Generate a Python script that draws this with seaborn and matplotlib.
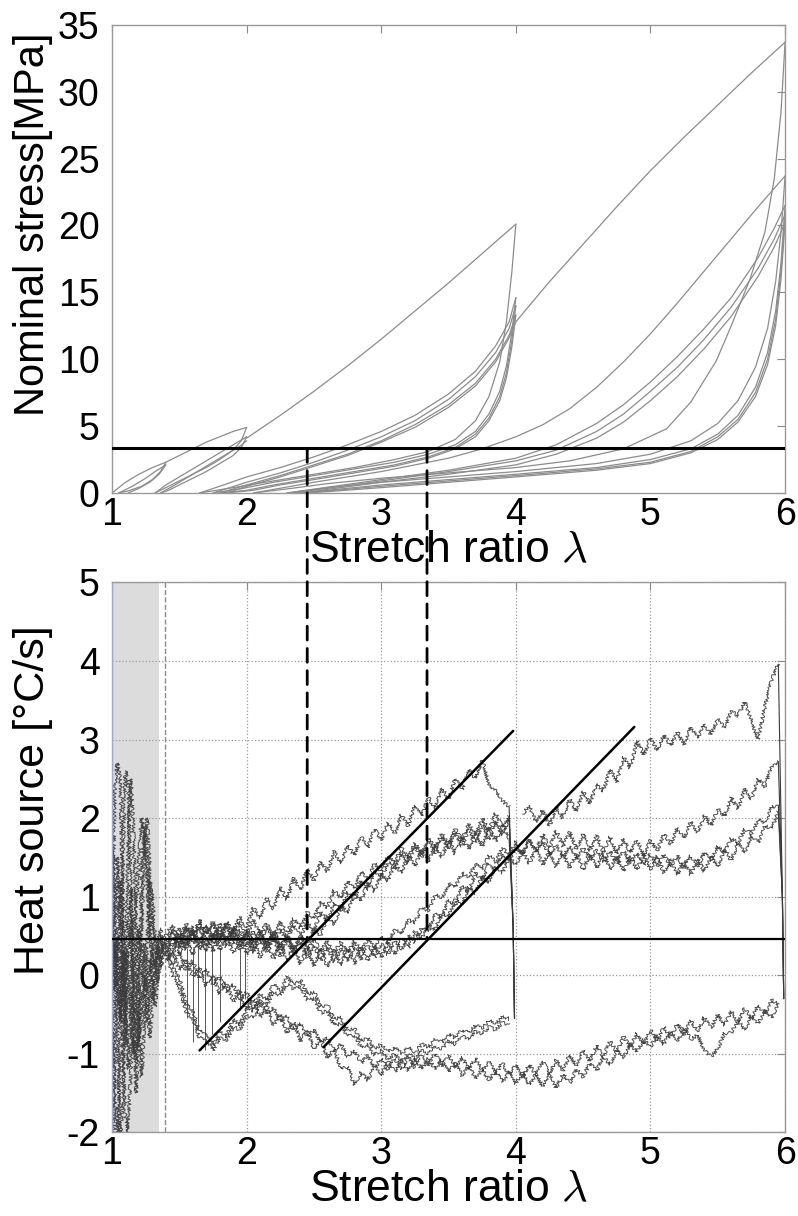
import numpy as np
import pandas as pd
import matplotlib
matplotlib.use("Agg")
import matplotlib.pyplot as plt
import seaborn as sns
from matplotlib.patches import ConnectionPatch

# ---------------- top panel: nominal stress vs stretch ratio ----------------
stress_curves = {
    "load14":   ([1.00, 1.10, 1.20, 1.30, 1.40], [0.0, 0.8, 1.4, 1.9, 2.3]),
    "unl14a":   ([1.40, 1.36, 1.30, 1.22, 1.12, 1.05], [2.3, 1.6, 1.0, 0.5, 0.15, 0.0]),
    "rel14":    ([1.05, 1.15, 1.25, 1.32, 1.40], [0.0, 0.5, 1.1, 1.6, 2.1]),
    "unl14b":   ([1.40, 1.35, 1.28, 1.20, 1.12], [2.1, 1.4, 0.8, 0.35, 0.0]),
    "load2v":   ([1.40, 1.50, 1.60, 1.70, 1.80, 1.90, 2.00], [2.3, 2.8, 3.3, 3.8, 4.2, 4.6, 4.9]),
    "unl2a":    ([2.00, 1.96, 1.90, 1.80, 1.70, 1.60, 1.50, 1.40, 1.32], [4.9, 3.9, 3.2, 2.5, 1.9, 1.4, 0.9, 0.4, 0.0]),
    "rel2a":    ([1.32, 1.40, 1.50, 1.60, 1.70, 1.80, 1.90, 2.00], [0.0, 0.6, 1.2, 1.8, 2.4, 3.0, 3.6, 4.2]),
    "unl2b":    ([2.00, 1.96, 1.90, 1.80, 1.70, 1.60, 1.50, 1.42, 1.36], [4.2, 3.4, 2.8, 2.2, 1.6, 1.1, 0.6, 0.2, 0.0]),
    "rel2b":    ([1.36, 1.45, 1.55, 1.65, 1.75, 1.85, 1.95, 2.00], [0.0, 0.5, 1.1, 1.7, 2.3, 2.9, 3.5, 3.9]),
    "load4v":   ([2.00, 2.25, 2.50, 2.75, 3.00, 3.25, 3.50, 3.75, 4.00], [4.1, 5.8, 7.6, 9.5, 11.5, 13.6, 15.7, 17.9, 20.1]),
    "unl4v":    ([4.00, 3.97, 3.93, 3.88, 3.80, 3.70, 3.55, 3.35, 3.10, 2.80, 2.50, 2.20, 1.90, 1.65],
                 [20.1, 16.5, 12.8, 9.8, 7.2, 5.4, 4.0, 3.1, 2.5, 1.9, 1.4, 0.9, 0.4, 0.0]),
    "rel4a":    ([1.65, 1.80, 2.00, 2.25, 2.50, 2.75, 3.00, 3.25, 3.50, 3.70, 3.85, 3.95, 4.00],
                 [0.0, 0.5, 1.2, 1.9, 2.7, 3.6, 4.6, 5.8, 7.4, 9.1, 11.0, 12.8, 14.6]),
    "unl4a":    ([4.00, 3.97, 3.93, 3.88, 3.80, 3.70, 3.55, 3.35, 3.10, 2.80, 2.50, 2.20, 1.95, 1.75],
                 [14.6, 12.0, 9.5, 7.6, 5.9, 4.6, 3.6, 2.9, 2.3, 1.8, 1.3, 0.8, 0.3, 0.0]),
    "rel4b":    ([1.75, 2.00, 2.25, 2.50, 2.75, 3.00, 3.25, 3.50, 3.70, 3.85, 3.95, 4.00],
                 [0.0, 0.8, 1.5, 2.3, 3.2, 4.2, 5.4, 7.0, 8.7, 10.5, 12.3, 14.0]),
    "unl4b":    ([4.00, 3.97, 3.93, 3.88, 3.80, 3.70, 3.55, 3.35, 3.10, 2.80, 2.50, 2.20, 2.00, 1.80],
                 [14.0, 11.4, 9.0, 7.2, 5.6, 4.4, 3.4, 2.7, 2.1, 1.6, 1.1, 0.6, 0.2, 0.0]),
    "rel4c":    ([1.80, 2.00, 2.25, 2.50, 2.75, 3.00, 3.25, 3.50, 3.70, 3.85, 3.95, 4.00],
                 [0.0, 0.6, 1.3, 2.1, 2.9, 3.9, 5.1, 6.6, 8.2, 10.0, 11.8, 13.3]),
    "unl4c":    ([4.00, 3.97, 3.93, 3.88, 3.80, 3.70, 3.55, 3.35, 3.10, 2.80, 2.50, 2.25, 2.05, 1.85],
                 [13.3, 10.9, 8.6, 6.9, 5.4, 4.2, 3.3, 2.6, 2.0, 1.5, 1.0, 0.6, 0.2, 0.0]),
    "rel4d":    ([1.85, 2.00, 2.25, 2.50, 2.75, 3.00, 3.25, 3.50, 3.70, 3.85, 3.95, 4.00],
                 [0.0, 0.5, 1.2, 2.0, 2.8, 3.8, 4.9, 6.4, 8.0, 9.8, 11.6, 12.8]),
    "load6v":   ([4.00, 4.25, 4.50, 4.75, 5.00, 5.25, 5.50, 5.75, 6.00],
                 [12.8, 15.8, 18.6, 21.4, 24.1, 26.6, 29.0, 31.4, 33.7]),
    "unl6v":    ([6.00, 5.97, 5.92, 5.85, 5.74, 5.60, 5.49, 5.30, 5.12, 4.80, 4.40, 4.00, 3.50, 3.00, 2.60, 2.30, 2.05],
                 [33.7, 28.5, 23.5, 19.5, 16.0, 12.5, 9.9, 6.8, 4.8, 3.3, 2.4, 1.9, 1.5, 1.1, 0.7, 0.3, 0.0]),
    "rel6a":    ([2.05, 2.50, 3.00, 3.50, 3.75, 4.00, 4.20, 4.40, 4.60, 4.80, 5.00, 5.20, 5.40, 5.60, 5.80, 6.00],
                 [0.0, 0.8, 1.6, 2.6, 3.3, 4.2, 5.1, 6.3, 7.9, 9.8, 11.9, 14.2, 16.6, 19.0, 21.4, 23.7]),
    "unl6a":    ([6.00, 5.97, 5.93, 5.87, 5.78, 5.65, 5.50, 5.30, 5.00, 4.60, 4.00, 3.50, 3.00, 2.60, 2.30],
                 [23.7, 19.5, 15.8, 12.3, 9.4, 6.9, 5.2, 3.9, 2.9, 2.2, 1.6, 1.2, 0.8, 0.4, 0.0]),
    "rel6b":    ([2.30, 3.00, 3.50, 4.00, 4.30, 4.60, 4.80, 5.00, 5.20, 5.40, 5.60, 5.80, 5.92, 6.00],
                 [0.0, 1.0, 1.7, 2.6, 3.6, 5.2, 6.6, 8.3, 10.2, 12.3, 14.6, 17.6, 19.8, 21.5]),
    "unl6b":    ([6.00, 5.97, 5.93, 5.87, 5.78, 5.65, 5.50, 5.30, 5.00, 4.60, 4.00, 3.50, 3.00, 2.60, 2.35],
                 [21.5, 17.2, 13.6, 10.5, 7.9, 5.8, 4.4, 3.3, 2.5, 1.9, 1.4, 1.0, 0.6, 0.2, 0.0]),
    "rel6c":    ([2.35, 3.00, 3.50, 4.00, 4.30, 4.60, 4.80, 5.00, 5.20, 5.40, 5.60, 5.80, 5.92, 6.00],
                 [0.0, 0.9, 1.6, 2.4, 3.2, 4.6, 5.9, 7.6, 9.4, 11.5, 13.9, 16.8, 19.0, 20.8]),
    "unl6c":    ([6.00, 5.97, 5.93, 5.87, 5.78, 5.65, 5.50, 5.30, 5.00, 4.60, 4.00, 3.50, 3.00, 2.60, 2.40],
                 [20.8, 16.6, 13.0, 10.0, 7.5, 5.5, 4.2, 3.1, 2.3, 1.8, 1.3, 0.9, 0.5, 0.15, 0.0]),
    "rel6d":    ([2.40, 3.00, 3.50, 4.00, 4.30, 4.60, 4.80, 5.00, 5.20, 5.40, 5.60, 5.80, 5.92, 6.00],
                 [0.0, 0.8, 1.4, 2.1, 2.9, 4.1, 5.3, 6.9, 8.7, 10.8, 13.2, 16.2, 18.4, 20.2]),
    "unl6d":    ([6.00, 5.97, 5.93, 5.87, 5.78, 5.65, 5.50, 5.30, 5.00, 4.60, 4.00, 3.50, 3.00, 2.60, 2.45],
                 [20.2, 16.0, 12.5, 9.6, 7.2, 5.3, 4.0, 3.0, 2.2, 1.7, 1.2, 0.8, 0.4, 0.1, 0.0]),
}
stress_threshold = 3.33

# ---------------- bottom panel: heat source vs stretch ratio ----------------
lam_a = np.round(np.arange(1.40, 3.951, 0.05), 2)    # 52 samples
lam_b = np.round(np.arange(4.00, 5.951, 0.05), 2)    # 40 samples
lam_left = np.round(np.arange(1.00, 1.401, 0.02), 2)  # 21 samples

t1_load4 = [0.45, 0.58, 0.38, 0.62, 0.48, 0.70, 0.52, 0.66, 0.44, 0.68,
            0.55, 0.74, 0.60, 0.86, 0.72, 0.98, 0.84, 1.12, 0.96, 1.24,
            1.08, 1.36, 1.20, 1.44, 1.32, 1.58, 1.42, 1.66, 1.52, 1.76,
            1.62, 1.86, 1.72, 1.94, 1.80, 2.04, 1.90, 2.16, 2.02, 2.26,
            2.12, 2.38, 2.24, 2.50, 2.36, 2.62, 2.50, 2.74, 2.42, 2.34,
            2.22, 2.14]
t1_load6 = [2.05, 2.16, 1.94, 2.10, 1.90, 2.14, 2.00, 2.24, 2.08, 2.34,
            2.18, 2.44, 2.34, 2.62, 2.46, 2.78, 2.64, 2.98, 2.80, 3.02,
            2.86, 3.06, 2.92, 3.10, 2.94, 3.16, 3.02, 3.20, 3.06, 3.26,
            3.14, 3.36, 3.30, 3.48, 3.24, 3.00, 3.42, 3.76, 3.96]
b1 = [0.40, 0.56, 0.34, 0.58, 0.40, 0.62, 0.36, 0.54, 0.42, 0.64,
      0.40, 0.58, 0.36, 0.56, 0.40, 0.62, 0.42, 0.58, 0.44, 0.64,
      0.48, 0.68, 0.56, 0.80, 0.68, 0.92, 0.82, 1.06, 0.96, 1.20,
      1.08, 1.32, 1.22, 1.44, 1.34, 1.56, 1.42, 1.64, 1.50, 1.70,
      1.54, 1.76, 1.60, 1.82, 1.64, 1.86, 1.68, 1.92, 1.72, 1.96,
      1.78, 1.98]
b2 = [0.35, 0.24, 0.50, 0.32, 0.56, 0.36, 0.62, 0.40, 0.66, 0.42,
      0.60, 0.36, 0.56, 0.32, 0.58, 0.34, 0.56, 0.32, 0.52, 0.30,
      0.50, 0.38, 0.60, 0.50, 0.76, 0.64, 0.90, 0.78, 1.04, 0.94,
      1.18, 1.06, 1.30, 1.20, 1.42, 1.30, 1.52, 1.38, 1.60, 1.44,
      1.66, 1.50, 1.72, 1.54, 1.76, 1.60, 1.82, 1.64, 1.88, 1.70,
      1.92, 1.74]
b3 = [0.52, 0.64, 0.44, 0.66, 0.48, 0.70, 0.52, 0.68, 0.46, 0.66,
      0.48, 0.68, 0.50, 0.70, 0.52, 0.66, 0.48, 0.68, 0.54, 0.72,
      0.60, 0.80, 0.72, 0.94, 0.86, 1.08, 0.98, 1.20, 1.10, 1.32,
      1.22, 1.42, 1.32, 1.52, 1.42, 1.62, 1.50, 1.68, 1.56, 1.74,
      1.62, 1.80, 1.66, 1.86, 1.72, 1.92, 1.78, 2.00, 1.84, 2.06,
      1.88, 2.02]
c1_a = [0.42, 0.30, 0.52, 0.36, 0.56, 0.32, 0.50, 0.30, 0.54, 0.36,
        0.56, 0.32, 0.50, 0.28, 0.48, 0.30, 0.46, 0.24, 0.44, 0.26,
        0.42, 0.22, 0.38, 0.18, 0.36, 0.16, 0.34, 0.18, 0.36, 0.20,
        0.38, 0.22, 0.40, 0.26, 0.44, 0.32, 0.50, 0.42, 0.60, 0.56,
        0.78, 0.72, 0.96, 0.88, 1.14, 1.06, 1.30, 1.20, 1.42, 1.32,
        1.54, 1.46]
c1_b = [1.62, 1.54, 1.72, 1.58, 1.80, 1.62, 1.84, 1.64, 1.82, 1.60,
        1.80, 1.58, 1.78, 1.56, 1.76, 1.54, 1.74, 1.56, 1.72, 1.52,
        1.72, 1.58, 1.80, 1.66, 1.88, 1.74, 1.96, 1.82, 2.04, 1.90,
        2.12, 2.02, 2.26, 2.12, 2.38, 2.24, 2.50, 2.40, 2.66, 2.72]
c2_a = [0.30, 0.48, 0.26, 0.50, 0.26, 0.48, 0.30, 0.52, 0.32, 0.50,
        0.28, 0.48, 0.26, 0.46, 0.22, 0.44, 0.20, 0.42, 0.18, 0.38,
        0.14, 0.36, 0.12, 0.34, 0.10, 0.32, 0.12, 0.34, 0.14, 0.36,
        0.18, 0.38, 0.22, 0.42, 0.26, 0.46, 0.34, 0.56, 0.46, 0.64,
        0.58, 0.80, 0.74, 0.96, 0.90, 1.12, 1.04, 1.26, 1.18, 1.38,
        1.30, 1.50]
c2_b = [1.40, 1.58, 1.42, 1.60, 1.40, 1.58, 1.38, 1.56, 1.36, 1.54,
        1.34, 1.54, 1.36, 1.56, 1.34, 1.52, 1.32, 1.52, 1.34, 1.54,
        1.34, 1.52, 1.30, 1.48, 1.28, 1.46, 1.28, 1.48, 1.32, 1.52,
        1.38, 1.60, 1.46, 1.68, 1.56, 1.78, 1.68, 1.90, 1.86, 2.08]
c3_a = [0.48, 0.36, 0.60, 0.40, 0.62, 0.44, 0.64, 0.46, 0.60, 0.42,
        0.62, 0.44, 0.58, 0.40, 0.54, 0.38, 0.52, 0.36, 0.50, 0.34,
        0.48, 0.32, 0.46, 0.30, 0.44, 0.28, 0.42, 0.28, 0.44, 0.30,
        0.46, 0.34, 0.50, 0.40, 0.58, 0.52, 0.70, 0.66, 0.86, 0.82,
        1.02, 0.98, 1.16, 1.12, 1.30, 1.24, 1.42, 1.34, 1.52, 1.44,
        1.62, 1.52]
c3_b = [1.70, 1.54, 1.72, 1.56, 1.70, 1.52, 1.66, 1.50, 1.64, 1.48,
        1.62, 1.46, 1.60, 1.44, 1.58, 1.42, 1.58, 1.42, 1.56, 1.40,
        1.54, 1.38, 1.54, 1.38, 1.52, 1.36, 1.52, 1.38, 1.56, 1.46,
        1.64, 1.56, 1.74, 1.68, 1.86, 1.80, 1.98, 1.94, 2.14, 2.16]
u4_a = [0.40, 0.10, -0.04, -0.36, -0.46, -0.72, -0.74, -0.90, -0.72, -0.78,
        -0.56, -0.64, -0.40, -0.46, -0.24, -0.32, -0.12, -0.20, -0.02, -0.12,
        -0.06, -0.24, -0.22, -0.40, -0.38, -0.56, -0.54, -0.70, -0.68, -0.84,
        -0.80, -0.94, -0.88, -0.98, -0.92, -1.00, -0.92, -0.98, -0.88, -0.92,
        -0.82, -0.86, -0.76, -0.80, -0.70, -0.74, -0.64, -0.68, -0.58, -0.62,
        -0.52, -0.56]
u4_b = [0.30, 0.00, -0.16, -0.46, -0.56, -0.80, -0.82, -0.96, -0.80, -0.84,
        -0.66, -0.70, -0.52, -0.54, -0.36, -0.38, -0.22, -0.26, -0.12, -0.18,
        -0.14, -0.32, -0.30, -0.48, -0.46, -0.64, -0.62, -0.78, -0.76, -0.92,
        -0.88, -1.02, -0.96, -1.08, -1.00, -1.10, -1.00, -1.06, -0.96, -1.00,
        -0.90, -0.94, -0.84, -0.88, -0.78, -0.82, -0.72, -0.76, -0.66, -0.70,
        -0.60, -0.64]
u6_a_lo = [0.30, 0.14, 0.28, 0.06, 0.18, -0.04, 0.08, -0.12, -0.02, -0.22,
           -0.12, -0.32, -0.22, -0.42, -0.32, -0.50, -0.42, -0.60, -0.52, -0.70,
           -0.62, -0.78, -0.70, -0.86, -0.80, -0.96, -0.88, -1.04, -0.96, -1.12,
           -1.02, -1.18, -1.06, -1.20, -1.06, -1.20, -1.04, -1.18, -1.02, -1.16,
           -1.00, -1.16, -1.02, -1.18, -1.04, -1.20, -1.06, -1.22, -1.10, -1.26,
           -1.12, -1.28]
u6_a_hi = [-1.14, -1.30, -1.14, -1.28, -1.10, -1.26, -1.08, -1.22, -1.02, -1.16,
           -0.96, -1.10, -0.90, -1.04, -0.84, -0.98, -0.78, -0.92, -0.74, -0.88,
           -0.70, -0.84, -0.66, -0.80, -0.62, -0.76, -0.58, -0.72, -0.54, -0.68,
           -0.50, -0.64, -0.46, -0.60, -0.42, -0.56, -0.38, -0.50, -0.32, -0.36]
u6_b_lo = [0.20, 0.30, 0.06, 0.20, -0.02, 0.10, -0.14, 0.00, -0.24, -0.10,
           -0.34, -0.20, -0.44, -0.30, -0.54, -0.40, -0.64, -0.50, -0.74, -0.60,
           -0.84, -0.70, -0.94, -0.82, -1.06, -0.94, -1.20, -1.16, -1.40, -1.24,
           -1.34, -1.16, -1.28, -1.10, -1.24, -1.08, -1.22, -1.06, -1.20, -1.06,
           -1.20, -1.08, -1.24, -1.12, -1.28, -1.16, -1.32, -1.20, -1.34, -1.22,
           -1.36, -1.24]
u6_b_hi = [-1.38, -1.24, -1.40, -1.26, -1.42, -1.26, -1.44, -1.26, -1.38, -1.20,
           -1.30, -1.12, -1.22, -1.04, -1.14, -0.96, -1.06, -0.88, -0.98, -0.82,
           -0.92, -0.76, -0.88, -0.72, -0.84, -0.68, -0.82, -0.76, -0.96, -1.04,
           -0.94, -0.74, -0.74, -0.58, -0.70, -0.52, -0.62, -0.44, -0.54, -0.36]
left_1 = [0.2, 2.4, 2.7, 2.5, 1.0, -0.5, -1.2, -0.3, 0.5, 0.9, 1.5, 2.0, 1.8, 1.2, 0.6, 0.2, 0.1, 0.3, 0.5, 0.45, 0.45]
left_2 = [-0.5, -1.5, -2.2, -1.0, 1.5, 2.6, 2.4, 1.0, -0.8, -1.5, -0.5, 1.3, 1.9, 1.5, 0.8, 0.0, -0.4, 0.0, 0.3, 0.4, 0.4]
left_3 = [1.8, 1.0, -0.8, -2.1, -1.6, 0.2, 1.6, 2.5, 1.8, 0.5, -0.7, -1.3, -0.6, 0.4, 1.2, 1.0, 0.5, 0.2, 0.3, 0.5, 0.5]
left_4 = [0.0, 0.4, 0.1, -0.5, -0.3, 0.3, 0.0, -0.6, -1.0, -0.4, 0.2, 0.6, 1.6, 2.0, 1.4, 0.6, 0.2, -0.1, 0.2, 0.3, 0.35]
left_5 = [-1.0, 0.5, 1.5, 0.6, -0.9, -1.8, -2.0, -1.2, -0.3, 0.3, 0.6, 0.2, -0.3, -0.6, -0.2, 0.3, 0.5, 0.4, 0.1, 0.2, 0.3]
left_6 = [0.8, -0.2, 0.5, -0.6, 0.3, -0.9, 0.1, 0.7, -0.4, -1.1, -0.6, -0.2, 0.4, -0.3, -0.8, -0.4, 0.1, 0.3, 0.2, 0.4, 0.4]
left_7 = [-2.5, -1.2, 0.3, 1.2, 0.4, -0.6, 0.6, 1.1, 0.2, -0.2, -0.9, -0.5, 0.0, -0.2, 0.2, -0.3, 0.0, 0.4, 0.6, 0.3, 0.4]
# reversal transients (sharp drops) at lambda = 4 and lambda = 6
drop4_lam = [3.95, 3.98, 3.99]
drop4_tops = [2.14, 1.98, 1.74, 2.02]     # end of T1, B1, B2, B3 loads
drop4_bottom = [0.6, -0.55]
drop6_lam = [5.95, 5.98, 5.99]
drop6_tops = [3.96, 2.72, 2.08, 2.16]     # end of T1 (4->6), C1, C2, C3 loads
drop6_bottom = [1.0, -0.30]
spike_lam = [1.56, 1.60, 1.64, 1.69, 1.74, 1.80, 1.95, 1.99]
spike_low = [-0.55, -0.85, -0.70, -0.95, -0.75, -0.60, -0.45, -0.30]
spike_top = 0.35
heat_threshold = 0.46
diag1_lam, diag1_val = [1.65, 3.98], [-0.96, 3.11]
diag2_lam, diag2_val = [2.57, 4.88], [-0.92, 3.16]
lam_marks = [2.45, 3.34]
shade_end = 1.35
onset_line = 1.39

# ---------------- build tables ----------------
rows = []
for cid, (xs, ys) in stress_curves.items():
    assert len(xs) == len(ys), cid
    rows += [(cid, i, x, y) for i, (x, y) in enumerate(zip(xs, ys))]
df_top = pd.DataFrame(rows, columns=["cid", "k", "lam", "val"])

heat_traces = {}
heat_traces["t1a"] = (list(lam_a), t1_load4)
heat_traces["t1b"] = (list(lam_b[1:]), t1_load6)
for name, arr in [("b1", b1), ("b2", b2), ("b3", b3)]:
    heat_traces[name] = (list(lam_a), arr)
for name, lo, hi in [("c1", c1_a, c1_b), ("c2", c2_a, c2_b), ("c3", c3_a, c3_b)]:
    heat_traces[name] = (list(lam_a) + list(lam_b), lo + hi)
for name, arr in [("u4a", u4_a), ("u4b", u4_b)]:
    heat_traces[name] = (list(lam_a), arr)
for name, lo, hi in [("u6a", u6_a_lo, u6_a_hi), ("u6b", u6_b_lo, u6_b_hi)]:
    heat_traces[name] = (list(lam_a) + list(lam_b), lo + hi)
for name, arr in [("l1", left_1), ("l2", left_2), ("l3", left_3), ("l4", left_4),
                  ("l5", left_5), ("l6", left_6), ("l7", left_7)]:
    heat_traces[name] = (list(lam_left), arr)

rows = []
for cid, (xs, ys) in heat_traces.items():
    assert len(xs) == len(ys), (cid, len(xs), len(ys))
    rows += [(cid, i, x, y) for i, (x, y) in enumerate(zip(xs, ys))]
df_bot = pd.DataFrame(rows, columns=["cid", "k", "lam", "val"])

drop_rows = []
for j, top in enumerate(drop4_tops):
    for i, (x, y) in enumerate(zip(drop4_lam, [top] + drop4_bottom)):
        drop_rows.append((f"d4_{j}", i, x, y))
for j, top in enumerate(drop6_tops):
    for i, (x, y) in enumerate(zip(drop6_lam, [top] + drop6_bottom)):
        drop_rows.append((f"d6_{j}", i, x, y))
df_drop = pd.DataFrame(drop_rows, columns=["cid", "k", "lam", "val"])

# ---------------- style ----------------
sns.set_theme(style="white")
plt.rcParams["font.family"] = ["Liberation Sans", "DejaVu Sans"]
plt.rcParams["mathtext.fontset"] = "cm"
plt.rcParams["axes.unicode_minus"] = False
plt.rcParams["text.color"] = "black"
plt.rcParams["axes.labelcolor"] = "black"

fig = plt.figure(figsize=(7.98, 12.16), dpi=100)
ax1 = fig.add_axes([0.1404, 0.5946, 0.8434, 0.385])
ax2 = fig.add_axes([0.1404, 0.0690, 0.8434, 0.452])

spine_col = "#9a9a9a"
for ax in (ax1, ax2):
    for s in ax.spines.values():
        s.set_color(spine_col)
        s.set_linewidth(1.0)
    ax.tick_params(direction="in", length=6, width=0.8, color="#8a8a8a",
                   labelsize=27, top=True, right=True, labelcolor="black")
    ax.tick_params(axis="x", pad=3)
    ax.tick_params(axis="y", pad=9)
ax2.spines["left"].set_color("#a4a9c8")

# top panel
sns.lineplot(data=df_top, x="lam", y="val", units="cid", estimator=None, sort=False,
             color="#8c8c8c", linewidth=0.9, ax=ax1, legend=False)
ax1.axhline(stress_threshold, color="black", lw=2.2, zorder=5)
ax1.set_xlim(1, 6)
ax1.set_ylim(0, 35)
ax1.set_xticks([1, 2, 3, 4, 5, 6])
ax1.set_yticks([0, 5, 10, 15, 20, 25, 30, 35])
ax1.set_xlabel(r"Stretch ratio $\lambda$", fontsize=32, labelpad=-2)
ax1.set_ylabel("Nominal stress[MPa]", fontsize=30)
ax1.yaxis.set_label_coords(-0.088, 0.573)

# bottom panel
ax2.axvspan(1.0, shade_end, color="#dcdcdc", zorder=0, lw=0)
ax2.axvline(onset_line, color="#8a8a8a", ls="--", lw=1.0, zorder=1)
ax2.grid(True, linestyle=":", color="#9a9a9a", lw=0.9)
ax2.set_axisbelow(True)
n_before = len(ax2.lines)
sns.lineplot(data=df_bot, x="lam", y="val", units="cid", estimator=None, sort=False,
             color="#3a3a3a", linewidth=0.7, alpha=0.9, ax=ax2, legend=False)
# measured traces are noisy: render them with a fine sketch (hand-drawn) line style
for ln in ax2.lines[n_before:]:
    ln.set_sketch_params(scale=1.8, length=2.5, randomness=3.0)
sns.lineplot(data=df_drop, x="lam", y="val", units="cid", estimator=None, sort=False,
             color="#3a3a3a", linewidth=0.8, ax=ax2, legend=False)
ax2.vlines(spike_lam, spike_low, spike_top, color="#3a3a3a", lw=0.6)
ax2.axhline(heat_threshold, color="black", lw=1.6, zorder=5)
ax2.plot(diag1_lam, diag1_val, color="black", lw=1.8, zorder=5)
ax2.plot(diag2_lam, diag2_val, color="black", lw=1.8, zorder=5)
ax2.set_xlim(1, 6)
ax2.set_ylim(-2, 5)
ax2.set_xticks([1, 2, 3, 4, 5, 6])
ax2.set_yticks([-2, -1, 0, 1, 2, 3, 4, 5])
ax2.set_xlabel(r"Stretch ratio $\lambda$", fontsize=32, labelpad=-2)
ax2.set_ylabel("Heat source [°C/s]", fontsize=31)
ax2.yaxis.set_label_coords(-0.088, 0.604)

# dashed connectors across both panels
for lm in lam_marks:
    con = ConnectionPatch(xyA=(lm, stress_threshold), coordsA=ax1.transData,
                          xyB=(lm, heat_threshold), coordsB=ax2.transData,
                          color="black", lw=2.0, linestyle=(0, (5, 3)), zorder=10)
    fig.add_artist(con)

fig.savefig("out.png", dpi=100)
